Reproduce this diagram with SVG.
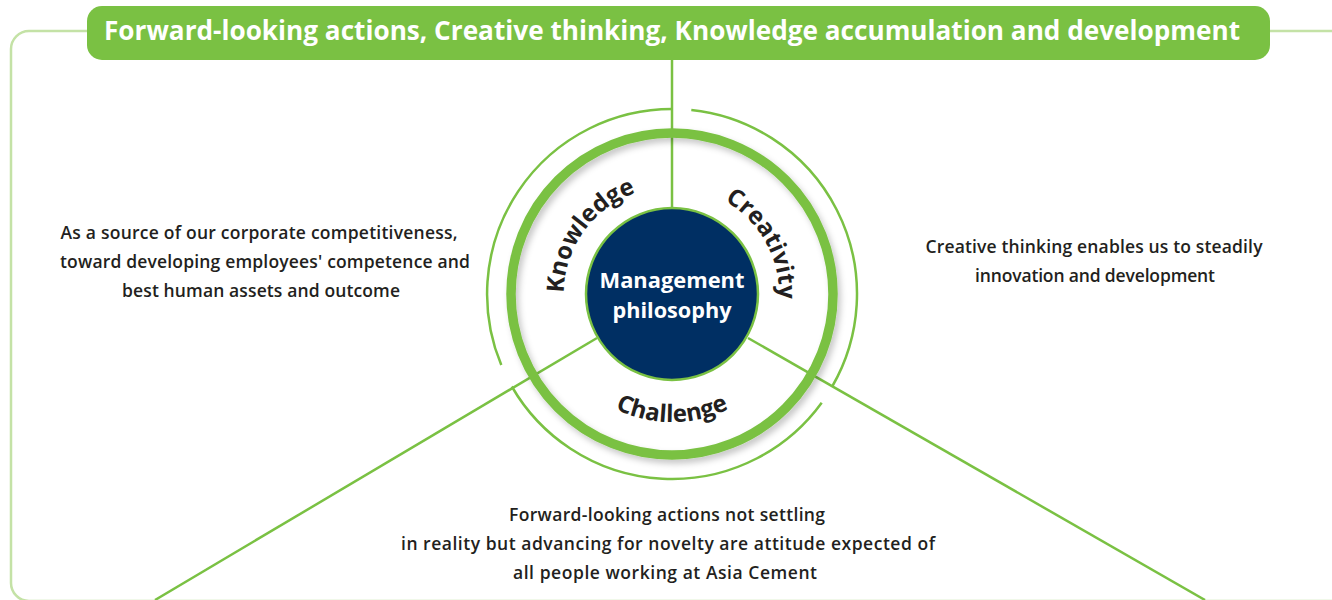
<svg xmlns="http://www.w3.org/2000/svg" width="1332" height="600" viewBox="0 0 1332 600">
<style>
.frame{fill:none;stroke:#c4e2a6;stroke-width:2.5}
.spoke{stroke:#7ac143;stroke-width:2.5;fill:none}
.thin{stroke:#7ac143;stroke-width:2.5;fill:none}
.body{font-family:"Open Sans","Liberation Sans",sans-serif;font-weight:600;font-size:17.5px;fill:#231f20;text-anchor:middle}
.ring{font-family:"Open Sans","Liberation Sans",sans-serif;font-weight:700;font-size:24px;fill:#231f20;text-anchor:middle}
.ban{font-family:"Open Sans","Liberation Sans",sans-serif;font-weight:700;font-size:26px;fill:#ffffff}
.mp{font-family:"Open Sans","Liberation Sans",sans-serif;font-weight:700;font-size:22px;fill:#ffffff;text-anchor:middle}
</style>
<defs>
<filter id="sh" x="-20%" y="-20%" width="140%" height="140%">
<feGaussianBlur in="SourceAlpha" stdDeviation="3"/>
<feOffset dx="3" dy="4" result="b"/>
<feFlood flood-color="#000" flood-opacity="0.22"/>
<feComposite in2="b" operator="in"/>
<feMerge><feMergeNode/><feMergeNode in="SourceGraphic"/></feMerge>
</filter>
<path id="pK" d="M 574.1 339.6 A 107 107 0 0 1 683.2 187.6"/>
<path id="pC" d="M 673.9 187 A 107 107 0 0 1 763.7 349.1"/>
<path id="pCh" d="M 561.1 358 A 128 128 0 0 0 782.9 358"/>
</defs>
<rect width="1332" height="600" fill="#ffffff"/>
<g id="frame">
<rect class="frame" x="11" y="31" width="1337" height="570" rx="18"/>
</g>
<g id="connectors">
<line class="spoke" x1="672" y1="58" x2="672" y2="209"/>
<line class="spoke" x1="597" y1="338" x2="155" y2="600"/>
<line class="spoke" x1="748" y1="338" x2="1205" y2="600"/>
</g>
<g id="outer-arcs">
<path class="thin" d="M 672 109 A 185 185 0 0 0 501.3 365.1"/>
<path class="thin" d="M 691.3 110 A 185 185 0 0 1 832.2 386.5"/>
<path class="thin" d="M 511.8 386.5 A 185 185 0 0 0 821.7 402.7"/>
</g>
<g id="ring">
<circle cx="672" cy="294" r="161" fill="none" stroke="#7ac143" stroke-width="9.5" filter="url(#sh)"/>
</g>
<g id="banner">
<rect x="87" y="6" width="1183" height="54" rx="15" fill="#7ac143"/>
<text class="ban" x="104" y="40" textLength="1136" lengthAdjust="spacingAndGlyphs">Forward-looking actions, Creative thinking, Knowledge accumulation and development</text>
</g>
<g id="center">
<circle cx="672" cy="294" r="86" fill="#002f63" stroke="#7ac143" stroke-width="2.5"/>
<text class="mp" x="672" y="288" textLength="145" lengthAdjust="spacingAndGlyphs">Management</text>
<text class="mp" x="672" y="318" textLength="119" lengthAdjust="spacingAndGlyphs">philosophy</text>
</g>
<g id="knowledge">
<text class="ring"><textPath href="#pK" startOffset="50%">Knowledge</textPath></text>
</g>
<g id="creativity">
<text class="ring"><textPath href="#pC" startOffset="50%">Creativity</textPath></text>
</g>
<g id="challenge">
<text class="ring"><textPath href="#pCh" startOffset="50%">Challenge</textPath></text>
</g>
<g id="left-text">
<text class="body" x="259" y="239" textLength="397">As a source of our corporate competitiveness,</text>
<text class="body" x="265" y="268" textLength="410">toward developing employees' competence and</text>
<text class="body" x="261" y="297" textLength="278">best human assets and outcome</text>
</g>
<g id="right-text">
<text class="body" x="1094" y="253" textLength="337">Creative thinking enables us to steadily</text>
<text class="body" x="1095" y="282" textLength="240">innovation and development</text>
</g>
<g id="bottom-text">
<text class="body" x="667" y="521" textLength="316">Forward-looking actions not settling</text>
<text class="body" x="668" y="550" textLength="534">in reality but advancing for novelty are attitude expected of</text>
<text class="body" x="665" y="579" textLength="304">all people working at Asia Cement</text>
</g>
</svg>
